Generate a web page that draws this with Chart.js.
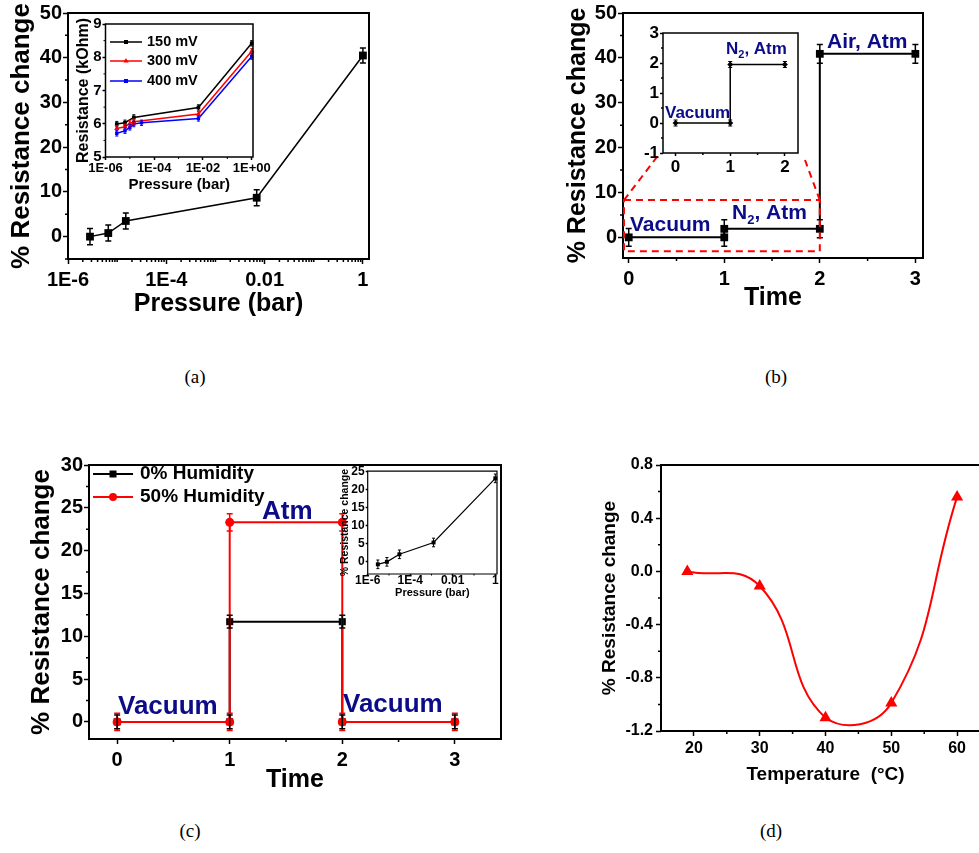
<!DOCTYPE html>
<html>
<head>
<meta charset="utf-8">
<script src="https://cdn.jsdelivr.net/npm/chart.js@4.4.1/dist/chart.umd.min.js"></script>
<style>
html, body { margin: 0; padding: 0; background: #fff; overflow: hidden; }
#fig { position: relative; width: 979px; height: 853px; overflow: hidden; background: #fff; }
#fig canvas { position: absolute; }
.lab { position: absolute; font-family: 'Liberation Serif', 'Times New Roman', serif; font-size: 19px; color: #000; transform: translate(-50%, -50%); }
</style>
</head>
<body>
<div id="fig">
	<div class="lab" style="left:195px;top:377px">(a)</div>
	<div class="lab" style="left:776px;top:377px">(b)</div>
	<div class="lab" style="left:190px;top:831px">(c)</div>
	<div class="lab" style="left:771px;top:831px">(d)</div>
</div>
<script>
// ---- (a) resistance change vs pressure
var pressureA = [2.8e-6, 6.6e-6, 1.5e-5, 0.0069, 1];
var respA = [0.0, 0.8, 3.5, 8.7, 40.5];
var respAErr = [1.8, 1.8, 1.8, 1.8, 1.7];
var pressureTicksA = [1e-6, 1e-4, 1e-2, 1];
var pressureLabelsA = ['1E-6', '1E-4', '0.01', '1'];
var respTicksA = [0, 10, 20, 30, 40, 50];
var respLabelsA = ['0', '10', '20', '30', '40', '50'];

// ---- (a) inset: resistance (kOhm) at three bias voltages
var p150 = [2.9e-6, 6.3e-6, 1.45e-5, 0.0065, 1];
var r150 = [5.99, 6.03, 6.19, 6.49, 8.42];
var p300 = [2.9e-6, 6.3e-6, 1.0e-5, 1.45e-5, 0.0065, 1];
var r300 = [5.86, 5.91, 6.01, 6.06, 6.29, 8.18];
var p400 = [2.9e-6, 6.3e-6, 1.0e-5, 1.45e-5, 3.0e-5, 0.0065, 1];
var r400 = [5.71, 5.79, 5.89, 5.99, 6.03, 6.16, 8.02];
var insetPTicksA = [1e-6, 1e-4, 1e-2, 1];
var insetPLabelsA = ['1E-06', '1E-04', '1E-02', '1E+00'];
var insetRTicksA = [5, 6, 7, 8, 9];
var insetRLabelsA = ['5', '6', '7', '8', '9'];

// ---- (b) vacuum -> N2 -> air
var timeB = [0, 1, 1, 2, 2, 3];
var respB = [0, 0, 1.9, 1.9, 40.9, 40.9];
var respBErr = [2.0, 2.0, 2.0, 2.0, 2.1, 2.1];
var timeTicksB = [0, 1, 2, 3];
var timeLabelsB = ['0', '1', '2', '3'];
var respTicksB = [0, 10, 20, 30, 40, 50];
var respLabelsB = ['0', '10', '20', '30', '40', '50'];
// (b) inset
var timeBi = [0, 1, 1, 2];
var respBi = [0, 0, 1.95, 1.95];
var respBiErr = [0.1, 0.1, 0.1, 0.1];
var timeTicksBi = [0, 1, 2];
var timeLabelsBi = ['0', '1', '2'];
var respTicksBi = [-1, 0, 1, 2, 3];
var respLabelsBi = ['-1', '0', '1', '2', '3'];

// ---- (c) humidity
var timeC = [0, 1, 1, 2, 2, 3];
var dryC = [0, 0, 11.7, 11.7, 0, 0];
var dryCErr = [0.8, 0.8, 0.75, 0.75, 0.8, 0.8];
var humidC = [0, 0, 23.3, 23.3, 0, 0];
var humidCErr = [1.0, 1.0, 1.0, 1.0, 1.0, 1.0];
var timeTicksC = [0, 1, 2, 3];
var timeLabelsC = ['0', '1', '2', '3'];
var respTicksC = [0, 5, 10, 15, 20, 25, 30];
var respLabelsC = ['0', '5', '10', '15', '20', '25', '30'];
// (c) inset
var pressureCi = [3e-6, 8e-6, 3.1e-5, 1.25e-3, 1];
var respCi = [-0.8, -0.1, 2.0, 5.3, 23.2];
var respCiErr = [1.2, 1.2, 1.2, 1.2, 1.2];
var pTicksCi = [1e-6, 1e-4, 1e-2, 1];
var pLabelsCi = ['1E-6', '1E-4', '0.01', '1'];
var rTicksCi = [0, 5, 10, 15, 20, 25];
var rLabelsCi = ['0', '5', '10', '15', '20', '25'];

// ---- (d) temperature
var tempD = [19, 30, 40, 50, 60];
var respD = [0.0, -0.11, -1.1, -0.99, 0.56];
var tempTicksD = [20, 30, 40, 50, 60];
var tempLabelsD = ['20', '30', '40', '50', '60'];
var respTicksD = [-1.2, -0.8, -0.4, 0, 0.4, 0.8];
var respLabelsD = ['-1.2', '-0.8', '-0.4', '0.0', '0.4', '0.8'];

var NAVY = '#0c0c88';
var FONT = "'Liberation Sans', Arial, Helvetica, sans-serif";

Chart.defaults.font.family = FONT;
Chart.defaults.font.weight = 'bold';
Chart.defaults.color = '#000';
Chart.defaults.animation = false;
Chart.defaults.events = [];
Chart.defaults.plugins.legend.display = false;
Chart.defaults.plugins.tooltip.enabled = false;

var deco = {};

function xy(xs, ys) {
	return xs.map(function(x, i) { return { x: x, y: ys[i] }; });
}

function logMinor(d0, d1) {
	var out = [];
	for (var d = d0; d <= d1; d++) {
		for (var k = 2; k <= 9; k++) out.push(k * Math.pow(10, d));
	}
	return out;
}

function steps(a, b, s) {
	var out = [];
	for (var v = a; v <= b + 1e-9; v += s) out.push(+v.toFixed(6));
	return out;
}

function marker(ctx, style, x, y, r, color) {
	ctx.save();
	ctx.fillStyle = color;
	ctx.beginPath();
	if (style === 'rect') {
		ctx.rect(x - r, y - r, 2 * r, 2 * r);
	} else if (style === 'circle') {
		ctx.arc(x, y, r, 0, Math.PI * 2);
	} else if (style === 'triangle') {
		ctx.moveTo(x, y - r * 1.15);
		ctx.lineTo(x + r, y + r * 0.6);
		ctx.lineTo(x - r, y + r * 0.6);
		ctx.closePath();
	}
	ctx.fill();
	ctx.restore();
}

function richText(ctx, x, y, parts, size, color) {
	ctx.save();
	ctx.fillStyle = color;
	ctx.textBaseline = 'middle';
	ctx.textAlign = 'left';
	parts.forEach(function(p) {
		var sub = p[1] === 1;
		var fs = sub ? Math.round(size * 0.62) : size;
		ctx.font = 'bold ' + fs + 'px ' + FONT;
		ctx.fillText(p[0], x, sub ? y + size * 0.34 : y);
		x += ctx.measureText(p[0]).width;
	});
	ctx.restore();
}

var decoPlugin = {
	id: 'deco',
	beforeDraw: function(chart) {
		var d = deco[chart.canvas.id];
		if (!d || !d.fill) return;
		var a = chart.chartArea, ctx = chart.ctx;
		ctx.save();
		ctx.fillStyle = '#fff';
		ctx.fillRect(a.left, a.top, a.right - a.left, a.bottom - a.top);
		ctx.restore();
	},
	afterDatasetsDraw: function(chart) {
		var ctx = chart.ctx, ys = chart.scales.y;
		chart.data.datasets.forEach(function(ds, i) {
			if (!ds.errs) return;
			var meta = chart.getDatasetMeta(i);
			var c = ds.capHalf || 3;
			ctx.save();
			ctx.strokeStyle = ds.borderColor;
			ctx.lineWidth = ds.errWidth || 1.5;
			ctx.beginPath();
			meta.data.forEach(function(pt, j) {
				var v = ds.data[j].y, e = ds.errs[j];
				var y1 = ys.getPixelForValue(v + e), y2 = ys.getPixelForValue(v - e);
				ctx.moveTo(pt.x, y1); ctx.lineTo(pt.x, y2);
				ctx.moveTo(pt.x - c, y1); ctx.lineTo(pt.x + c, y1);
				ctx.moveTo(pt.x - c, y2); ctx.lineTo(pt.x + c, y2);
			});
			ctx.stroke();
			ctx.restore();
		});
	},
	afterDraw: function(chart) {
		var d = deco[chart.canvas.id];
		if (!d) return;
		var ctx = chart.ctx, a = chart.chartArea, xs = chart.scales.x, ys = chart.scales.y;

		// minor ticks
		ctx.save();
		ctx.strokeStyle = '#000';
		ctx.lineWidth = d.tickW || 1.5;
		ctx.beginPath();
		(d.minorX || []).forEach(function(v) {
			if (v < xs.min || v > xs.max) return;
			var p = xs.getPixelForValue(v);
			ctx.moveTo(p, a.bottom); ctx.lineTo(p, a.bottom + d.minorLen);
		});
		(d.minorY || []).forEach(function(v) {
			if (v < ys.min || v > ys.max) return;
			var p = ys.getPixelForValue(v);
			ctx.moveTo(a.left, p); ctx.lineTo(a.left - d.minorLen, p);
		});
		ctx.stroke();

		// frame
		ctx.lineWidth = d.frameW;
		ctx.beginPath();
		ctx.rect(a.left, a.top, a.right - a.left, a.bottom - a.top);
		ctx.stroke();
		ctx.restore();

		// zoom box (b)
		if (d.zoomBox) {
			var z = d.zoomBox;
			var zx1 = xs.getPixelForValue(z.x1), zx2 = xs.getPixelForValue(z.x2);
			var zy1 = ys.getPixelForValue(z.y1), zy2 = ys.getPixelForValue(z.y2);
			ctx.save();
			ctx.strokeStyle = '#ff0000';
			ctx.lineWidth = 2;
			ctx.setLineDash([7, 5]);
			ctx.beginPath();
			ctx.rect(zx1, zy2, zx2 - zx1, zy1 - zy2);
			ctx.moveTo(zx1, zy2); ctx.lineTo(z.to[0][0] - d.ox, z.to[0][1] - d.oy);
			ctx.moveTo(zx2, zy2); ctx.lineTo(z.to[1][0] - d.ox, z.to[1][1] - d.oy);
			ctx.stroke();
			ctx.restore();
		}

		// legend
		if (d.legend) {
			var L = d.legend;
			L.items.forEach(function(it, i) {
				var y = L.rows[i] - d.oy;
				ctx.save();
				ctx.strokeStyle = it.color;
				ctx.lineWidth = L.lw;
				ctx.beginPath();
				ctx.moveTo(L.x1 - d.ox, y); ctx.lineTo(L.x2 - d.ox, y);
				ctx.stroke();
				ctx.restore();
				marker(ctx, it.style, (L.x1 + L.x2) / 2 - d.ox, y, it.r, it.color);
				richText(ctx, L.xt - d.ox, y, [[it.label, 0]], L.fs, '#000');
			});
		}

		// free texts
		(d.texts || []).forEach(function(t) {
			richText(ctx, t.x - d.ox, t.y - d.oy, t.parts, t.fs, t.color || NAVY);
		});
	}
};
Chart.register(decoPlugin);

function axis(o) {
	return {
		type: o.type || 'linear',
		position: o.pos,
		min: o.min,
		max: o.max,
		bounds: 'data',
		afterFit: function(s) {
			if (o.pos === 'bottom') s.height = o.space; else s.width = o.space;
		},
		afterBuildTicks: function(s) {
			s.ticks = o.ticks.map(function(v) { return { value: v }; });
		},
		ticks: {
			font: { size: o.fs },
			padding: o.pad,
			autoSkip: false,
			maxRotation: 0,
			minRotation: 0,
			color: '#000',
			callback: function(v, i) { return o.labels[i]; }
		},
		grid: {
			drawOnChartArea: false,
			drawTicks: true,
			tickLength: o.tl,
			tickWidth: o.tw || 1.5,
			tickColor: '#000'
		},
		border: { display: false },
		title: o.title ? {
			display: true,
			text: o.title,
			font: { size: o.tfs },
			padding: o.tpad,
			color: '#000'
		} : { display: false }
	};
}

function build(id, box, xAxis, yAxis, datasets, extra) {
	var left = Math.round(box.L - box.pl), top = Math.round(box.T - box.pt);
	var w = Math.round(box.R - box.L + box.pl + box.pr);
	var h = Math.round(box.B - box.T + box.pt + box.pb);
	var c = document.createElement('canvas');
	c.id = id;
	c.width = w;
	c.height = h;
	c.style.left = left + 'px';
	c.style.top = top + 'px';
	c.style.width = w + 'px';
	c.style.height = h + 'px';
	document.getElementById('fig').appendChild(c);
	extra.ox = left;
	extra.oy = top;
	deco[id] = extra;
	xAxis.pos = 'bottom';
	xAxis.space = box.pb;
	yAxis.pos = 'left';
	yAxis.space = box.pl;
	return new Chart(c, {
		type: 'line',
		data: { datasets: datasets },
		options: {
			responsive: false,
			devicePixelRatio: 1,
			layout: { padding: { left: 0, top: box.pt, right: box.pr, bottom: 0 } },
			scales: { x: axis(xAxis), y: axis(yAxis) }
		}
	});
}

function series(xs, ys, o) {
	return {
		data: xy(xs, ys),
		errs: o.errs,
		capHalf: o.cap,
		errWidth: o.ew,
		borderColor: o.color,
		borderWidth: o.lw,
		pointStyle: o.style,
		pointRadius: o.r,
		pointBackgroundColor: o.color,
		pointBorderColor: o.color,
		pointBorderWidth: 0,
		tension: o.tension || 0,
		clip: false
	};
}

// (a) main
build('aMain', { L: 68, T: 13, R: 369, B: 259, pl: 68, pt: 13, pr: 15, pb: 65 },
	{ type: 'logarithmic', min: 1e-6, max: 1.33, ticks: pressureTicksA, labels: pressureLabelsA,
		fs: 20, tl: 5, pad: 4, title: 'Pressure (bar)', tfs: 25, tpad: 5 },
	{ min: -5, max: 50, ticks: respTicksA, labels: respLabelsA,
		fs: 20, tl: 5, pad: 1, title: '% Resistance change', tfs: 26, tpad: 6 },
	[series(pressureA, respA, { color: '#000', lw: 1.5, style: 'rect', r: 5.5, errs: respAErr, cap: 3 })],
	{ frameW: 2, minorLen: 3, minorX: logMinor(-6, 0).concat([1e-5, 1e-3, 1e-1]), minorY: steps(-5, 45, 10) });

// (a) inset
build('aIn', { L: 105.5, T: 24, R: 253, B: 157, pl: 40.5, pt: 10, pr: 20, pb: 40 },
	{ type: 'logarithmic', min: 1e-6, max: 1.13, ticks: insetPTicksA, labels: insetPLabelsA,
		fs: 13, tl: 3, pad: 1, title: 'Pressure (bar)', tfs: 15, tpad: 3 },
	{ min: 5, max: 9, ticks: insetRTicksA, labels: insetRLabelsA,
		fs: 15, tl: 3, pad: 1, title: 'Resistance (kOhm)', tfs: 16, tpad: 8.5 },
	[
		series(p150, r150, { color: '#000', lw: 1.5, style: 'rect', r: 2.6, errs: p150.map(function() { return 0.08; }), cap: 1.5, ew: 1 }),
		series(p300, r300, { color: '#ff0000', lw: 1.5, style: 'triangle', r: 3, errs: p300.map(function() { return 0.08; }), cap: 1.5, ew: 1 }),
		series(p400, r400, { color: '#0000ff', lw: 1.5, style: 'rect', r: 2.4, errs: p400.map(function() { return 0.08; }), cap: 1.5, ew: 1 })
	],
	{ fill: true, frameW: 1.5, minorLen: 2, tickW: 1, minorX: [1e-5, 1e-3, 1e-1], minorY: [5.5, 6.5, 7.5, 8.5],
		legend: { x1: 110, x2: 142, xt: 147, rows: [42, 61, 81], fs: 14.5, lw: 1.5,
			items: [
				{ label: '150 mV', color: '#000', style: 'rect', r: 2 },
				{ label: '300 mV', color: '#ff0000', style: 'triangle', r: 2.6 },
				{ label: '400 mV', color: '#0000ff', style: 'rect', r: 2 }
			] } });

// (b) main
build('bMain', { L: 623, T: 13, R: 923, B: 258, pl: 60, pt: 13, pr: 15, pb: 62 },
	{ min: -0.06, max: 3.08, ticks: timeTicksB, labels: timeLabelsB,
		fs: 20, tl: 5, pad: 4, title: 'Time', tfs: 25, tpad: 6.5 },
	{ min: -4.6, max: 50, ticks: respTicksB, labels: respLabelsB,
		fs: 20, tl: 5, pad: 1, title: '% Resistance change', tfs: 25, tpad: 0 },
	[series(timeB, respB, { color: '#000', lw: 2, style: 'rect', r: 5.5, errs: respBErr, cap: 3 })],
	{ frameW: 2, minorLen: 3, minorX: [0.5, 1.5, 2.5], minorY: steps(-5, 45, 10),
		zoomBox: { x1: -0.05, x2: 2.0, y1: -3.1, y2: 8.3, to: [[660, 153], [805, 160]] },
		texts: [
			{ x: 630, y: 225, parts: [['Vacuum', 0]], fs: 21 },
			{ x: 732, y: 213, parts: [['N', 0], ['2', 1], [', Atm', 0]], fs: 21 },
			{ x: 827, y: 42, parts: [['Air, Atm', 0]], fs: 21 }
		] });

// (b) inset
build('bIn', { L: 663, T: 33, R: 798, B: 153, pl: 30, pt: 12, pr: 12, pb: 25 },
	{ min: -0.23, max: 2.24, ticks: timeTicksBi, labels: timeLabelsBi, fs: 17, tl: 3, pad: 1 },
	{ min: -1, max: 3, ticks: respTicksBi, labels: respLabelsBi, fs: 17, tl: 3, pad: 1 },
	[series(timeBi, respBi, { color: '#000', lw: 1.5, style: 'rectRot', r: 3, errs: respBiErr, cap: 2, ew: 1.2 })],
	{ fill: true, frameW: 1.5, minorLen: 2, minorX: [0.5, 1.5], minorY: [-0.5, 0.5, 1.5, 2.5],
		texts: [
			{ x: 665, y: 113, parts: [['Vacuum', 0]], fs: 17 },
			{ x: 726, y: 49, parts: [['N', 0], ['2', 1], [', Atm', 0]], fs: 17 }
		] });

// (c) main
build('cMain', { L: 89, T: 465, R: 501, B: 739, pl: 69, pt: 14, pr: 12, pb: 60 },
	{ min: -0.25, max: 3.41, ticks: timeTicksC, labels: timeLabelsC,
		fs: 20, tl: 5, pad: 4, title: 'Time', tfs: 25, tpad: 4 },
	{ min: -2, max: 30, ticks: respTicksC, labels: respLabelsC,
		fs: 20, tl: 5, pad: 1, title: '% Resistance change', tfs: 26, tpad: 6 },
	[
		series(timeC, humidC, { color: '#ff0000', lw: 2, style: 'circle', r: 4.5, errs: humidCErr, cap: 3 }),
		series(timeC, dryC, { color: '#000', lw: 2, style: 'rect', r: 5, errs: dryCErr, cap: 3 })
	],
	{ frameW: 2, minorLen: 3, minorX: [0.5, 1.5, 2.5], minorY: steps(-2.5, 27.5, 5),
		legend: { x1: 93, x2: 133, xt: 140, rows: [474, 497], fs: 19, lw: 2,
			items: [
				{ label: '0% Humidity', color: '#000', style: 'rect', r: 3.5 },
				{ label: '50% Humidity', color: '#ff0000', style: 'circle', r: 4 }
			] },
		texts: [
			{ x: 262, y: 512, parts: [['Atm', 0]], fs: 26 },
			{ x: 118, y: 707, parts: [['Vacuum', 0]], fs: 26 },
			{ x: 343, y: 705, parts: [['Vacuum', 0]], fs: 26 }
		] });

// (c) inset
build('cIn', { L: 367.7, T: 471, R: 496.7, B: 574.3, pl: 32.7, pt: 8, pr: 6, pb: 27 },
	{ type: 'logarithmic', min: 1e-6, max: 1.2, ticks: pTicksCi, labels: pLabelsCi,
		fs: 12, tl: 2, pad: -3, title: 'Pressure (bar)', tfs: 11, tpad: 1 },
	{ min: -3.5, max: 25.2, ticks: rTicksCi, labels: rLabelsCi,
		fs: 12, tl: 2, pad: 1, title: '% Resistance change', tfs: 10.5, tpad: 3.5 },
	[series(pressureCi, respCi, { color: '#000', lw: 1.2, style: 'rect', r: 2.8, errs: respCiErr, cap: 1.5, ew: 1 })],
	{ fill: true, frameW: 1.2, minorLen: 1.5, tickW: 1, minorX: [1e-5, 1e-3, 1e-1], minorY: [] });

// (d) main
build('dMain', { L: 661, T: 465, R: 990, B: 731, pl: 71, pt: 14, pr: 10, pb: 60 },
	{ min: 15, max: 65, ticks: tempTicksD, labels: tempLabelsD,
		fs: 16, tl: 5, pad: 3, title: 'Temperature  (\u00B0C)', tfs: 19, tpad: 4.6 },
	{ min: -1.2, max: 0.8, ticks: respTicksD, labels: respLabelsD,
		fs: 16, tl: 5, pad: 3, title: '% Resistance change', tfs: 19, tpad: 8 },
	[series(tempD, respD, { color: '#ff0000', lw: 2, style: 'triangle', r: 7, tension: 0.45 })],
	{ frameW: 2, minorLen: 3, minorX: [25, 35, 45, 55], minorY: [-1.0, -0.6, -0.2, 0.2, 0.6] });
</script>
</body>
</html>
